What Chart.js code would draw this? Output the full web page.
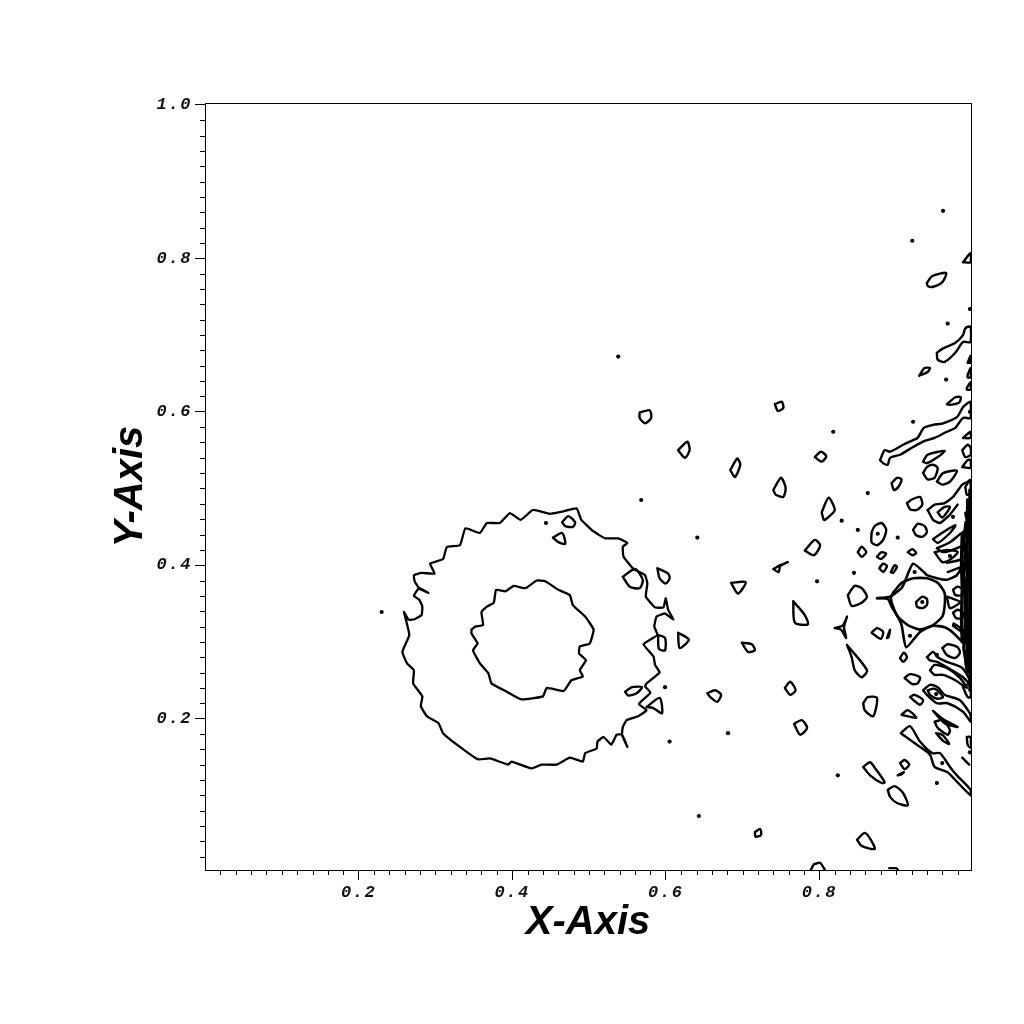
<!DOCTYPE html>
<html><head><meta charset="utf-8">
<script src="https://cdn.jsdelivr.net/npm/chart.js@4"></script>
<style>html,body{margin:0;padding:0;background:#fff}#w{width:1024px;height:1024px}</style>
</head><body><div id="w"><canvas id="c"></canvas></div>
<script>
const xTitle='X-Axis', yTitle='Y-Axis';
const xMajor=[.2,.4,.6,.8];
const yMajor=[.2,.4,.6,.8,1.0];
const minorStep=[.02,.04,.06,.08,.1,.12,.14,.16,.18,.22,.24,.26,.28,.3,.32,.34,.36,.38,.42,.44,.46,.48,.5,.52,.54,.56,.58,.62,.64,.66,.68,.7,.72,.74,.76,.78,.82,.84,.86,.88,.9,.92,.94,.96,.98];
// contour lines, flat x,y lists
const ringOuter=[.259,.339,.265,.329,.273,.3295,.282,.335,.283,.346,.279,.355,.272,.36,.278,.369,.291,.364,.278,.371,.273,.379,.272,.387,.282,.39,.299,.389,.293,.402,.31,.408,.315,.424,.332,.426,.339,.448,.358,.442,.367,.455,.384,.455,.397,.468,.411,.459,.427,.472,.449,.467,.466,.47,.484,.474,.49,.459,.506,.444,.521,.435,.538,.435,.55,.429,.544,.424,.545,.411,.558,.395,.573,.387,.576,.376,.574,.359,.586,.345,.597,.345,.6,.357,.603,.342,.61,.329,.599,.337,.588,.333,.585,.32,.589,.309,.571,.297,.584,.281,.586,.27,.592,.26,.575,.246,.573,.242,.58,.234,.565,.219,.575,.211,.564,.203,.549,.198,.544,.189,.543,.179,.55,.163,.543,.179,.536,.179,.529,.166,.519,.176,.511,.17,.51,.161,.495,.155,.492,.144,.475,.149,.458,.14,.438,.14,.425,.135,.399,.144,.395,.14,.371,.148,.355,.147,.328,.166,.31,.181,.304,.194,.289,.203,.281,.216,.283,.229,.271,.246,.272,.263,.263,.272,.257,.287,.266,.309,.259,.339];
const ringInner=[.347,.316,.352,.32,.362,.322,.36,.339,.367,.346,.376,.351,.379,.368,.391,.366,.402,.373,.417,.37,.432,.38,.443,.379,.46,.368,.475,.361,.479,.348,.495,.333,.506,.316,.501,.298,.488,.294,.487,.285,.496,.276,.488,.263,.492,.255,.477,.25,.467,.236,.445,.24,.44,.229,.412,.225,.393,.235,.373,.246,.369,.259,.358,.272,.349,.289,.355,.298,.347,.311,.347,.316];
const starRing=[.896,.364,.907,.377,.922,.383,.94,.383,.954,.377,.963,.364,.963,.346,.96,.333,.948,.322,.931,.316,.915,.322,.902,.333,.896,.346,.893,.357,.896,.364];
const starUpper=[.875,.357,.892,.359,.907,.37,.911,.378,.922,.402,.937,.39,.94,.387,.953,.383,.966,.381,.979,.387,.987,.4];
const starLower=[.875,.357,.889,.356,.894,.346,.901,.335,.907,.322,.913,.293,.931,.313,.948,.321,.963,.319,.974,.312,.987,.299];
const denseOne=[.991,.456,.988,.433,.99,.413,.988,.387,.99,.368,.99,.342,.99,.316,.988,.292,.991,.274];
const denseTwo=[.993,.485,.993,.452,.992,.426,.993,.394,.992,.355,.993,.316,.993,.261];
const denseThree=[.996,.498,.996,.407,.996,.329,.996,.237];
const denseFour=[.986,.44,.985,.405,.986,.37,.985,.33,.986,.3];
const openLines=[
 [.966,.403,.983,.407,.99,.413],[.967,.391,.986,.398],[.986,.149,.995,.14],
 [.941,.472,.948,.459,.957,.455,.97,.466,.98,.479],
 [.941,.472,.95,.479,.963,.481,.974,.489,.986,.505,.997,.511],
 [.789,.003,.793,.01,.801,.012,.807,.003],[.891,.005,.9,.005,.902,.003]
];
const smallLoops=[
 [.566,.599,.579,.602,.581,.592,.573,.585,.566,.592],
 [.616,.55,.628,.561,.631,.55,.625,.54],
 [.684,.524,.693,.539,.697,.531,.69,.515],
 [.742,.61,.751,.613,.753,.605,.746,.601],
 [.74,.498,.75,.514,.756,.501,.753,.489,.743,.492],
 [.794,.541,.802,.548,.809,.542,.803,.535],
 [.803,.469,.812,.488,.82,.472,.811,.462,.806,.459],
 [.781,.419,.794,.433,.801,.426,.793,.413],
 [.74,.395,.749,.4,.759,.404,.749,.399,.747,.391],
 [.685,.377,.704,.378,.694,.363],
 [.589,.396,.603,.389,.605,.383,.6,.376,.592,.383],
 [.544,.385,.56,.395,.57,.381,.566,.37,.553,.372],
 [.465,.456,.473,.464,.482,.456,.479,.45,.469,.451],
 [.453,.436,.465,.442,.469,.428,.46,.43],
 [.547,.235,.556,.241,.569,.241,.562,.233,.551,.23],
 [.575,.215,.592,.227,.595,.207,.583,.214],
 [.59,.309,.599,.305,.599,.289,.591,.291],
 [.616,.312,.63,.303,.618,.292],
 [.699,.299,.712,.297,.716,.289,.707,.287],
 [.766,.353,.781,.335,.785,.323,.768,.325],
 [.755,.24,.762,.248,.769,.237,.762,.231],
 [.654,.233,.664,.237,.672,.231,.667,.222,.658,.228],
 [.767,.193,.777,.198,.784,.188,.775,.179],
 [.716,.052,.723,.056,.724,.048,.717,.046],
 [.837,.361,.846,.373,.855,.37,.862,.359,.855,.351,.842,.347],
 [.849,.042,.859,.051,.867,.042,.872,.03,.855,.034],
 [.889,.107,.898,.112,.909,.103,.915,.087,.901,.09,.892,.098],
 [.857,.137,.866,.143,.872,.136,.885,.117,.881,.116,.866,.126],
 [.905,.142,.911,.146,.917,.14,.911,.134],
 [.902,.126,.91,.13,.906,.127],
 [.857,.22,.863,.228,.875,.227,.87,.203,.859,.211],
 [.836,.296,.862,.263,.855,.254,.846,.263,.842,.28],
 [.82,.318,.831,.322,.836,.333,.832,.319,.835,.305,.828,.316],
 [.868,.312,.875,.318,.883,.313,.88,.304],
 [.888,.305,.892,.316,.89,.306],
 [.905,.279,.91,.286,.914,.28,.909,.274],
 [.911,.253,.918,.258,.931,.254,.928,.246,.921,.245],
 [.918,.228,.924,.231,.935,.224,.931,.218],
 [.907,.205,.915,.211,.926,.201],
 [.906,.181,.918,.19,.931,.17,.947,.155,.957,.155,.97,.137,.979,.126,.997,.107,.997,.1,.974,.123,.967,.13,.95,.137,.944,.153,.927,.166],
 [.948,.21,.963,.198,.98,.189,.963,.194],
 [.95,.196,.961,.198,.97,.185,.967,.179,.954,.188],
 [.952,.181,.96,.179,.969,.167,.961,.171],
 [.992,.176,.997,.176,.997,.162,.993,.166],
 [.935,.237,.944,.244,.954,.241,.963,.231,.983,.224,.996,.207,.997,.203,.997,.196,.987,.209,.967,.22,.953,.22,.94,.231],
 [.941,.237,.95,.239,.961,.228,.953,.226,.944,.231],
 [.944,.263,.95,.27,.966,.266,.983,.253,.992,.24,.977,.25,.961,.257,.95,.257],
 [.94,.28,.948,.287,.954,.28,.966,.274,.986,.266,.996,.25,.997,.244,.987,.254,.966,.267,.953,.274,.944,.276],
 [.96,.292,.967,.297,.98,.293,.983,.286,.977,.279,.966,.283],
 [.99,.274,.997,.276,.997,.261,.992,.263],
 [.987,.241,.997,.246,.997,.228,.993,.228],
 [.879,.537,.885,.55,.892,.548,.909,.557,.922,.563,.928,.566,.936,.579,.948,.583,.961,.585,.979,.593,.987,.606,.997,.613,.997,.592,.987,.592,.977,.579,.966,.574,.95,.566,.937,.562,.922,.554,.905,.544,.892,.54,.889,.531,.883,.533],
 [.935,.535,.941,.544,.963,.549,.954,.541,.94,.533],
 [.935,.52,.94,.528,.948,.531,.954,.527,.95,.514,.941,.512],
 [.953,.509,.961,.52,.979,.523,.97,.509,.96,.505],
 [.894,.507,.901,.514,.907,.512,.902,.501,.897,.498],
 [.914,.481,.921,.486,.931,.489,.934,.479,.927,.472,.918,.473],
 [.868,.443,.872,.451,.881,.455,.887,.446,.883,.433,.875,.426,.868,.43],
 [.922,.446,.928,.454,.937,.451,.94,.443,.934,.437,.926,.439],
 [.85,.417,.855,.424,.861,.417,.855,.411],
 [.875,.411,.881,.417,.887,.415,.88,.408],
 [.878,.396,.883,.402,.888,.399,.883,.391],
 [.893,.391,.898,.4,.901,.398,.896,.39],
 [.915,.417,.921,.421,.926,.416,.921,.413],
 [.954,.469,.963,.476,.97,.476,.96,.462],
 [.948,.434,.961,.443,.977,.452,.97,.442,.954,.429],
 [.953,.422,.97,.43,.992,.446,.996,.433,.983,.424,.961,.417],
 [.986,.55,.993,.557,.997,.553,.997,.544,.99,.541],
 [.986,.528,.993,.537,.997,.537,.997,.527],
 [.99,.502,.996,.511,.997,.494,.992,.492],
 [.99,.468,.996,.472,.997,.462,.992,.459],
 [.987,.795,.997,.807,.997,.795],
 [.94,.768,.947,.777,.965,.781,.96,.769,.948,.763,.941,.764],
 [.953,.677,.96,.682,.977,.69,.987,.7,.99,.709,.997,.711,.997,.691,.987,.691,.977,.677,.963,.665,.954,.668],
 [.93,.647,.937,.657,.944,.657,.941,.652],
 [.993,.664,.997,.673,.997,.664],
 [.993,.648,.997,.657,.997,.645,.993,.645],
 [.992,.631,.997,.639,.997,.629,.992,.629],
 [.966,.61,.977,.619,.984,.619,.982,.612,.97,.609],
 [.987,.566,.997,.574,.997,.566],
 [.926,.352,.934,.359,.94,.356,.94,.348,.934,.344,.927,.346],
 [.966,.359,.983,.352,.97,.344],
 [.974,.368,.98,.372,.987,.368,.986,.361,.977,.361],
 [.974,.338,.98,.342,.987,.338,.986,.331,.978,.331],
 [.974,.321,.987,.312,.987,.315,.975,.324],
 [.95,.417,.967,.42,.98,.417,.97,.407,.96,.404]
];
const dotX=[.23,.538,.568,.444,.605,.641,.681,.643,.824,.797,.599,.902,.85,.863,.829,.845,.876,.961,.921,.996,.967,.965,.996,.922,.818,.974,.953,.952,.96,.953,.924,.918,.934,.97,.996];
const dotY=[.339,.672,.485,.455,.17,.436,.181,.073,.126,.379,.241,.436,.446,.494,.458,.39,.441,.862,.823,.734,.715,.642,.6,.587,.574,.463,.116,.232,.142,.283,.391,.308,.352,.412,.156];

const toPoints=f=>{const p=[];for(let i=0;i<f.length;i+=2)p.push({x:f[i],y:f[i+1]});return p;};
const closed=f=>{const p=toPoints(f);p.push(p[0]);return p;};
const lineSet=(pts,w,t)=>({type:'scatter',data:pts,showLine:true,borderColor:'#000',borderWidth:w||2.4,pointRadius:0,fill:false,tension:t||0,borderJoinStyle:'round',borderCapStyle:'round'});
const datasets=[
 ...[ringOuter,ringInner].map(f=>lineSet(toPoints(f),2.3,.12)),
 ...[starRing,starUpper,starLower].map(f=>lineSet(toPoints(f),2.6,.2)),
 ...[denseOne,denseTwo,denseThree,denseFour].map(f=>lineSet(toPoints(f),3.4)),
 ...openLines.map(f=>lineSet(toPoints(f),2.4,.15)),
 ...smallLoops.map(f=>lineSet(closed(f),2.4,.25)),
 {type:'scatter',data:dotX.map((x,i)=>({x,y:dotY[i]})),showLine:false,pointRadius:2.1,pointBorderWidth:0,pointBackgroundColor:'#000'}
];
const spaced=(scale)=>{ if(scale._spaced) return; scale._spaced=true; const d=scale.drawLabels;
 scale.drawLabels=function(a){const c=this.ctx;c.save();c.letterSpacing='1.6px';d.call(this,a);c.restore();};};
const frame={id:'frame',afterDraw(ch){const c=ch.ctx,a=ch.chartArea,x=ch.scales.x,y=ch.scales.y;
 c.save();c.strokeStyle='#000';c.lineWidth=1;c.strokeRect(a.left+.5,a.top+.5,a.width,a.height);
 c.beginPath();
 minorStep.forEach(v=>{const px=Math.round(x.getPixelForValue(v))+.5;c.moveTo(px,a.bottom);c.lineTo(px,a.bottom+5);
  const py=Math.round(y.getPixelForValue(v))+.5;c.moveTo(a.left,py);c.lineTo(a.left-5,py);});
 c.stroke();c.restore();}};
const axis=(title,major,lo,hi,titlePad,fit,tickPad)=>({type:'linear',min:lo,max:hi,
 afterBuildTicks:s=>{s.ticks=major.map(v=>({value:v}));},
 afterFit:s=>{fit(s);spaced(s);},
 border:{display:true,color:'#000',width:1},
 grid:{drawOnChartArea:false,drawTicks:true,tickLength:10,tickColor:'#000',tickWidth:1},
 ticks:{autoSkip:false,maxRotation:0,minRotation:0,color:'#111',padding:tickPad,font:{family:'"Liberation Mono"',size:17,weight:'bold',style:'italic'},callback:v=>v.toFixed(1)},
 title:{display:true,text:title,color:'#000',padding:titlePad,font:{family:'"Liberation Sans"',size:40,weight:'bold',style:'italic'}}});
new Chart(document.getElementById('c'),{
 type:'scatter',data:{datasets},plugins:[frame],
 options:{responsive:true,maintainAspectRatio:false,animation:false,events:[],
  layout:{padding:{top:103,right:53,left:0,bottom:0}},
  plugins:{legend:{display:false},tooltip:{enabled:false}},
  scales:{
   x:axis(xTitle,xMajor,0,.9974,{top:0,bottom:77},s=>{s.height=154;},3),
   y:axis(yTitle,yMajor,.0026,1.0026,{top:107,bottom:0},s=>{s.width=205;},3)
  }}});
</script></body></html>
